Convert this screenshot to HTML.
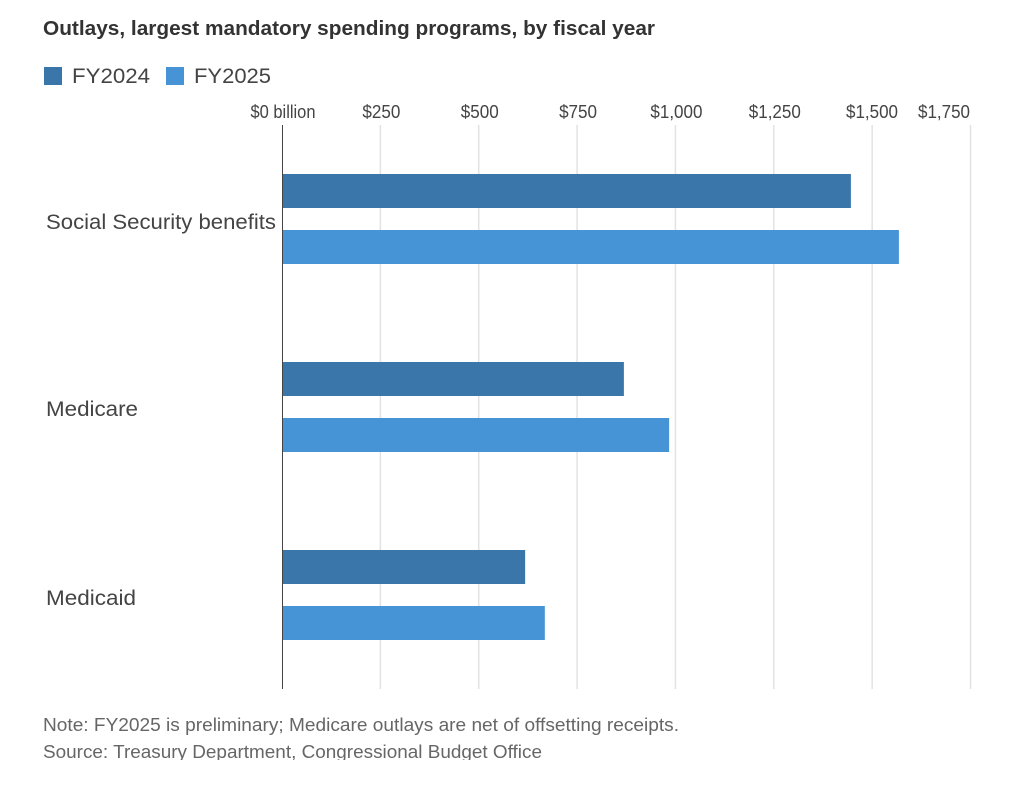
<!DOCTYPE html>
<html lang="en">
<head>
<meta charset="utf-8">
<title>Outlays, largest mandatory spending programs</title>
<style>
html,body{margin:0;padding:0;background:#fff;width:1015px;height:796px;overflow:hidden}
svg{display:block}
text{font-family:"Liberation Sans",sans-serif}
</style>
</head>
<body>
<svg id="chart" width="1015" height="796" viewBox="0 0 1015 796" xmlns="http://www.w3.org/2000/svg">
  <defs><clipPath id="foot-clip"><rect x="0" y="700" width="1015" height="60"></rect></clipPath></defs>
  <text x="43" y="35" font-size="20" font-weight="700" fill="#333" textLength="612" lengthAdjust="spacingAndGlyphs">Outlays, largest mandatory spending programs, by fiscal year</text>
  <g>
    <rect x="44" y="67" width="18" height="18" fill="#3a76a9"></rect>
    <text x="72" y="83" font-size="21" fill="#444" textLength="78" lengthAdjust="spacingAndGlyphs">FY2024</text>
    <rect x="166" y="67" width="18" height="18" fill="#4693d6"></rect>
    <text x="194" y="83" font-size="21" fill="#444" textLength="77" lengthAdjust="spacingAndGlyphs">FY2025</text>
  </g>
  <g id="grid"></g>
  <g id="bars"></g>
  <g id="labels"></g>
  <line x1="282.5" y1="125" x2="282.5" y2="689" stroke="#444" stroke-width="1"></line>
  <g clip-path="url(#foot-clip)">
    <text x="43" y="731" font-size="18" fill="#666" textLength="636" lengthAdjust="spacingAndGlyphs">Note: FY2025 is preliminary; Medicare outlays are net of offsetting receipts.</text>
    <text x="43" y="758" font-size="18" fill="#666" textLength="499" lengthAdjust="spacingAndGlyphs">Source: Treasury Department, Congressional Budget Office</text>
  </g>
</svg>
<script>
const categories = ["Social Security benefits", "Medicare", "Medicaid"];
const fy2024 = [1446, 869, 618];
const fy2025 = [1568, 984, 668];
const tickValues = [0, 250, 500, 750, 1000, 1250, 1500, 1750];
const tickLabels = ["$0 billion", "$250", "$500", "$750", "$1,000", "$1,250", "$1,500", "$1,750"];

const NS = "http://www.w3.org/2000/svg";
const xScale = function (v) { return 282 + v * (970.5 - 282) / 1750; };
const bandTop = function (i) { return 174 + i * 188; };

const make = function (tag, attrs, parent) {
  const el = document.createElementNS(NS, tag);
  Object.keys(attrs).forEach(function (k) { el.setAttribute(k, attrs[k]); });
  parent.appendChild(el);
  return el;
};

const gridG = document.getElementById("grid");
const labelsG = document.getElementById("labels");
const barsG = document.getElementById("bars");

tickValues.forEach(function (v, i) {
  const x = xScale(v);
  if (v !== 0) {
    const line = make("line", { x1: x, x2: x, y1: 125, y2: 689, stroke: "#e2e2e2", "stroke-width": 1.5 }, gridG);
    
    
  }
  const chars = tickLabels[i].length;
  const width = v === 0 ? 65 : (chars > 4 ? 52 : 38);
  // The first tick and the last two are offset from their gridlines to avoid label overlap
  const centre = v === 0 ? 283 : (v === 1500 ? 872 : (v === 1750 ? 944 : x + 1));
  const t = make("text", { x: centre, y: 118, "font-size": 18, fill: "#444", "text-anchor": "middle", textLength: width, lengthAdjust: "spacingAndGlyphs" }, labelsG);
  
  
  t.textContent = tickLabels[i];
});

const catWidths = [230, 92, 90];
const catBase = [229, 416, 605];
categories.forEach(function (name, i) {
  const top = bandTop(i);
  const a = make("rect", { x: 283, y: top, width: xScale(fy2024[i]) - 283, height: 34, fill: "#3a76a9" }, barsG);
  
  
  const b = make("rect", { x: 283, y: top + 56, width: xScale(fy2025[i]) - 283, height: 34, fill: "#4693d6" }, barsG);
  
  
  const t = make("text", { x: 46, y: catBase[i], "font-size": 21, fill: "#444", textLength: catWidths[i], lengthAdjust: "spacingAndGlyphs" }, labelsG);
  
  
  t.textContent = name;
});
</script>
</body>
</html>
